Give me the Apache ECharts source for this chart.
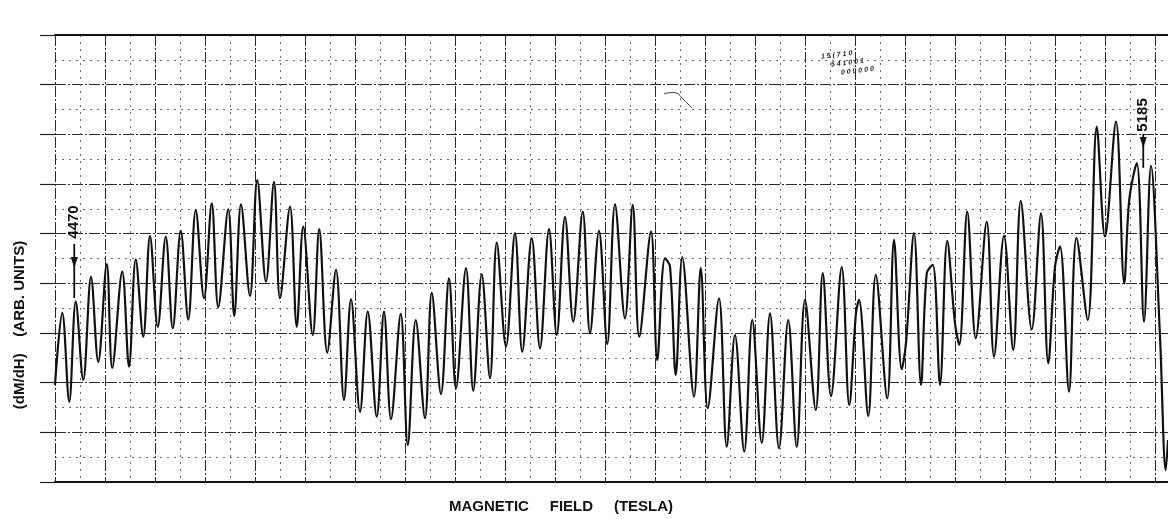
<!DOCTYPE html>
<html>
<head>
<meta charset="utf-8">
<script src="https://cdn.jsdelivr.net/npm/echarts@6/dist/echarts.min.js"></script>
<style>
html,body{margin:0;padding:0;background:#fff;}
#chart{width:1168px;height:519px;}
</style>
</head>
<body>
<div id="chart"></div>
<script>
// Magnetic field in chart divisions (one minor division = 1 unit)
const fieldX = [0,0.29,0.57,0.83,1.13,1.44,1.73,2.07,2.29,2.69,
2.96,3.23,3.53,3.80,4.11,4.43,4.71,5.03,5.33,5.63,
5.96,6.27,6.53,6.93,7.17,7.44,7.80,8.09,8.44,8.76,
9.00,9.40,9.67,9.93,10.31,10.57,10.89,11.24,11.56,11.84,
12.20,12.51,12.87,13.16,13.44,13.83,14.11,14.43,14.80,15.07,
15.44,15.76,16.04,16.44,16.73,17.07,17.40,17.67,18.04,18.40,
18.69,19.07,19.40,19.76,20.07,20.40,20.73,21.11,21.40,21.76,
22.09,22.40,22.80,23.11,23.37,23.84,24.09,24.40,24.60,24.83,
25.09,25.56,25.83,26.11,26.56,26.87,27.20,27.57,27.89,28.27,
28.60,28.96,29.33,29.67,30.00,30.43,30.71,31.04,31.47,31.77,
32.04,32.16,32.53,32.83,33.29,33.56,33.87,34.04,34.36,34.64,
34.87,35.11,35.40,35.69,36.00,36.17,36.49,36.83,37.27,37.56,
37.96,38.33,38.63,39.07,39.44,39.73,40.00,40.20,40.56,40.86,
41.31,41.67,42.00,42.44,42.77,42.97,43.27,43.56,43.84,44.20,
44.43,44.52];
// dM/dH signal (arb. units, minor divisions)
const signal = [3.91,6.81,3.23,7.26,4.11,8.26,4.84,8.77,4.59,8.47,
4.64,8.97,5.85,9.91,6.25,9.88,6.19,10.11,6.54,10.95,
7.40,11.22,7.04,10.98,6.69,11.18,7.49,12.16,8.07,12.09,
7.40,11.09,6.25,10.28,5.92,10.18,5.21,8.54,3.30,7.36,
2.83,6.86,2.63,6.86,2.53,6.77,1.49,6.52,2.57,7.62,
3.54,8.20,3.77,8.61,3.68,8.36,4.18,9.64,5.45,10.02,
5.25,9.81,5.38,10.18,5.92,10.68,6.46,10.89,5.99,10.11,
5.56,11.18,6.59,11.16,5.85,10.08,4.91,9.01,8.67,4.31,
9.05,3.44,8.61,2.97,7.40,1.42,5.92,1.22,6.52,1.58,
6.79,1.36,6.52,1.42,7.33,2.90,8.41,3.46,8.65,3.10,
6.81,7.33,2.66,8.34,3.37,9.75,4.54,5.60,10.02,3.91,
8.41,8.74,3.91,9.71,6.39,5.52,10.89,5.79,10.48,5.05,
9.91,5.32,11.32,6.15,10.82,4.78,8.67,9.49,3.64,9.83,
6.52,14.31,9.88,14.51,8.00,11.36,12.84,6.46,12.73,5.85,
0.48,1.69];
// Arrow annotations: label, field position, label centre, arrow top, arrow head apex, arrow tip
const annoLabels = ['4470','5185'];
const annoX      = [0.77, 43.53];
const annoTextY  = [10.47, 14.78];
const annoTopY   = [9.59, 14.02];
const annoHeadY  = [8.62, 13.45];
const annoTipY   = [7.41, 12.65];
const stampLines = ['1 5 ( 7 1 0','5 4 1 0 0 1','0 0 0 0 0 0'];
const squiggleX = [24.36, 24.84, 25.16, 25.48];
const squiggleY = [15.63, 15.67, 15.38, 15.06];

const xMin = 0, xMax = 46, yMin = 0, yMax = 18;
const majorLine = {color:'#2a2a2a', width:1, type:[11,2,2,2]};
const minorLine = {color:'#6a6a6a', width:1, type:[2,5]};

const chart = echarts.init(document.getElementById('chart'), null, {renderer:'canvas'});
const option = {
  animation:false,
  backgroundColor:'#ffffff',
  grid:{left:55, top:35, width:1150, height:447, containLabel:false, outerBoundsMode:'none'},
  xAxis:[{
    type:'value', min:xMin, max:xMax, interval:2, position:'bottom',
    name:'MAGNETIC     FIELD     (TESLA)', nameLocation:'middle', nameGap:17,
    nameTextStyle:{fontFamily:'Liberation Sans', fontWeight:'bold', fontSize:15, color:'#111', padding:[0,138,0,0], verticalAlign:'top'},
    axisLine:{show:true, lineStyle:{color:'#111', width:2}},
    axisTick:{show:false}, axisLabel:{show:false},
    splitLine:{show:true, lineStyle:majorLine},
    minorTick:{show:false, splitNumber:2},
    minorSplitLine:{show:true, lineStyle:minorLine}
  },{
    type:'value', min:xMin, max:xMax, position:'top',
    axisLine:{show:true, lineStyle:{color:'#111', width:2}},
    axisTick:{show:false}, axisLabel:{show:false}, splitLine:{show:false}
  }],
  yAxis:{
    type:'value', min:yMin, max:yMax, interval:2,
    name:'(dM/dH)    (ARB. UNITS)', nameLocation:'middle', nameGap:28,
    nameTextStyle:{fontFamily:'Liberation Sans', fontWeight:'bold', fontSize:15, color:'#111', padding:[0,133,0,0]},
    axisLine:{show:false},
    axisTick:{show:true, inside:false, length:15, lineStyle:{color:'#222', width:1.2}},
    axisLabel:{show:false},
    splitLine:{show:true, lineStyle:majorLine},
    minorTick:{show:false, splitNumber:2},
    minorSplitLine:{show:true, lineStyle:minorLine}
  },
  series:[{
    type:'line',
    data: fieldX.map((x,i)=>[x, signal[i]]),
    smooth:0.35,
    symbol:'none',
    clip:true,
    lineStyle:{color:'#111', width:2.2}
  }]
};
chart.setOption(option);

function px(x,y){ return chart.convertToPixel({gridIndex:0},[x,y]); }
const graphics = [];
annoLabels.forEach((lab,i)=>{
  const t = px(annoX[i], annoTextY[i]);
  const top = px(annoX[i], annoTopY[i]);
  const head = px(annoX[i], annoHeadY[i]);
  const tip = px(annoX[i], annoTipY[i]);
  graphics.push({type:'text', x:t[0], y:t[1], rotation:Math.PI/2,
    style:{text:lab, font:'bold 15px "Liberation Sans"', fill:'#111', align:'center', verticalAlign:'middle'}});
  graphics.push({type:'line', shape:{x1:top[0], y1:top[1], x2:tip[0], y2:tip[1]}, style:{stroke:'#111', lineWidth:1.8}});
  graphics.push({type:'polygon', shape:{points:[[head[0]-3.5, head[1]-11],[head[0]+3.5, head[1]-11],[head[0], head[1]]]}, style:{fill:'#111'}});
});
const st = px(30.64, 17.12);
stampLines.forEach((s,i)=>{
  graphics.push({type:'text', x:st[0] + i*10, y:st[1] + i*8, rotation:0.12,
    style:{text:s, font:'italic bold 7px "Liberation Sans"', fill:'#222', align:'left', verticalAlign:'middle'}});
});
graphics.push({type:'polyline', shape:{points:squiggleX.map((x,i)=>px(x, squiggleY[i])), smooth:0.4},
  style:{stroke:'#333', lineWidth:1, fill:null}});
chart.setOption({graphic:graphics});
</script>
</body>
</html>
